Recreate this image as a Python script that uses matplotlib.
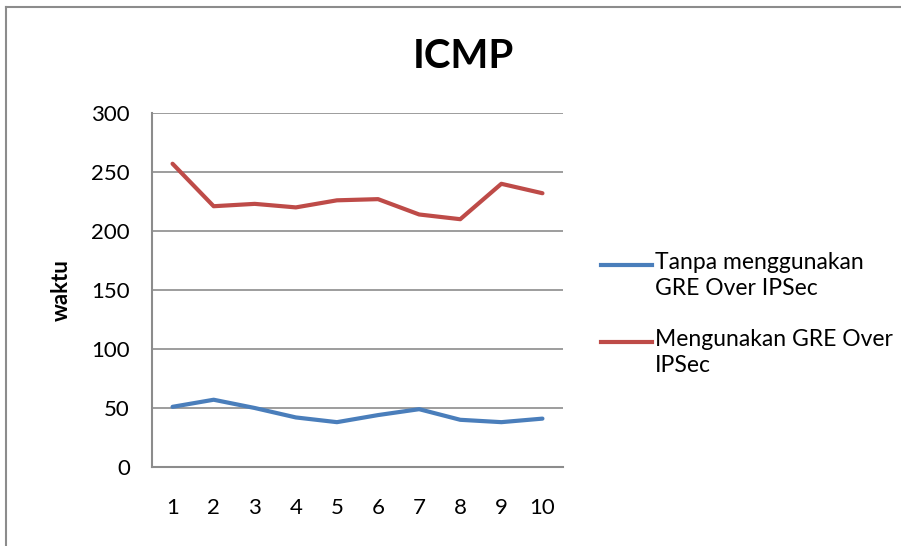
import matplotlib.pyplot as plt
from matplotlib.lines import Line2D

plt.rcParams['font.family'] = ['Lato', 'DejaVu Sans']

percobaan = ['1', '2', '3', '4', '5', '6', '7', '8', '9', '10']
tanpa_gre = [51, 57, 50, 42, 38, 44, 49, 40, 38, 41]
dengan_gre = [257, 221, 223, 220, 226, 227, 214, 210, 240, 232]
yticks = [0, 50, 100, 150, 200, 250, 300]
labels = ['Tanpa menggunakan\nGRE Over IPSec', 'Mengunakan GRE Over\nIPSec']

W, H = 901, 546
fig = plt.figure(figsize=(W / 100, H / 100), dpi=100)

# outer chart frame, cut off at the right and bottom like the reference
frame = dict(transform=fig.transFigure, color='#8c8c8c', linewidth=1.5)
fig.lines.append(Line2D([6 / W, 1.05], [1 - 7 / H] * 2, **frame))
fig.lines.append(Line2D([6 / W] * 2, [-0.05, 1 - 7 / H], **frame))

ax = fig.add_axes([152 / W, (H - 467) / H, 411 / W, 354 / H])
x = range(len(percobaan))
ax.plot(x, tanpa_gre, color='#4A7EBB', linewidth=3, solid_capstyle='round')
ax.plot(x, dengan_gre, color='#BE4B48', linewidth=3, solid_capstyle='round')

ax.set_xlim(-0.5, len(percobaan) - 0.5)
ax.set_ylim(0, 300)
ax.set_xticks(list(x))
ax.set_xticklabels(percobaan)
ax.set_yticks(yticks)
ax.tick_params(axis='both', length=0, labelsize=16)
ax.tick_params(axis='x', pad=22)
ax.tick_params(axis='y', pad=16)
ax.grid(axis='y', color='#8c8c8c', linewidth=1.2)
ax.set_axisbelow(True)
for s in ['top', 'right']:
    ax.spines[s].set_visible(False)
for s in ['left', 'bottom']:
    ax.spines[s].set_color('#8c8c8c')
    ax.spines[s].set_linewidth(1.5)

ax.set_ylabel('waktu', fontsize=16, fontweight='bold', labelpad=14)
fig.text(463 / W, 1 - 57 / H, 'ICMP', fontsize=29, fontweight='bold',
         ha='center', va='center')

# legend: handle level with the first text line, as Excel draws it
for line, label, ypix in zip(ax.get_lines(), labels, [265, 342]):
    y = 1 - ypix / H
    fig.lines.append(Line2D([601 / W, 652 / W], [y, y], transform=fig.transFigure,
                            color=line.get_color(), linewidth=3))
    fig.text(655 / W, 1 - (ypix - 13) / H, label, fontsize=16.5, va='top',
             ha='left', linespacing=1.3)

fig.savefig('out.png', dpi=100)
